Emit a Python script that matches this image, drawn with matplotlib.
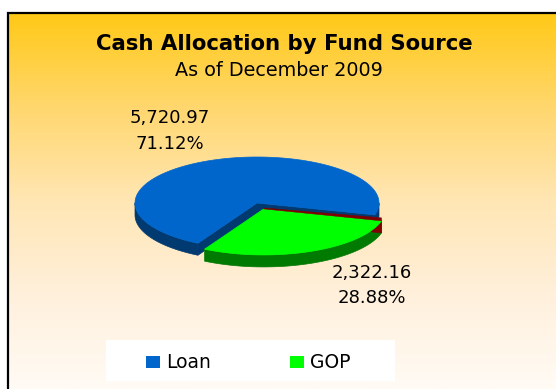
import numpy as np
import matplotlib
matplotlib.use("Agg")
import matplotlib.pyplot as plt
from matplotlib.patches import Polygon, Rectangle
from matplotlib.colors import LinearSegmentedColormap

# ---- data ----
categories = ["Loan", "GOP"]
amounts = [5720.97, 2322.16]
shares = [71.12, 28.88]          # percent of total
top_colors = ["#0066CC", "#00FF00"]
side_colors = ["#003A70", "#007A00"]
cut_color = "#800000"

title = "Cash Allocation by Fund Source"
subtitle = "As of December 2009"

W, H = 556, 390
fig = plt.figure(figsize=(W / 100, H / 100), dpi=100)
fig.patch.set_facecolor("white")

# ---- single drawing layer in pixel units ----
ax = fig.add_axes([0, 0, 1, 1])
ax.axis("off")

# chart area with vertical gradient
fl, ft, fr, fb = 8, 13, W, 389
grad = LinearSegmentedColormap.from_list(
    "warm", [(0.0, "#FFC916"), (0.25, "#FFD76E"), (0.5, "#FFE6B4"),
             (0.75, "#FFF0DC"), (1.0, "#FFFBF5")])
ax.imshow(np.linspace(0, 1, 256)[:, None], aspect="auto", cmap=grad,
          extent=[fl, fr, fb, ft], origin="upper", zorder=0)
ax.plot([fl, fl, fr], [fb, ft, ft], color="black", lw=1.6,
        solid_capstyle="butt", solid_joinstyle="miter", zorder=1)
ax.set_xlim(0, W)
ax.set_ylim(H, 0)

cx, cy = 257.0, 203.0
rx, ry = 122.0, 46.0
depth = 12.0
explode = [0.0, 0.14]
start = -15.0  # degrees, counter-clockwise


def rim(theta_deg, ox, oy, dz=0.0):
    t = np.radians(theta_deg)
    return np.column_stack([ox + rx * np.cos(t), oy - ry * np.sin(t) + dz])


fracs = np.array(shares) / sum(shares)
angles = start + 360 * np.concatenate([[0], np.cumsum(fracs)])

geo = []
for i in range(len(categories)):
    a0, a1 = angles[i], angles[i + 1]
    mid = np.radians((a0 + a1) / 2)
    ox = cx + explode[i] * rx * np.cos(mid)
    oy = cy - explode[i] * ry * np.sin(mid)
    geo.append((a0, a1, ox, oy))


def front_wall(a0, a1, ox, oy, color, z):
    # visible part of the curved outer wall (lower half of the ellipse)
    segs = []
    for k in range(-1, 2):
        s0, s1 = max(a0, 180 + 360 * k), min(a1, 360 + 360 * k)
        if s1 > s0:
            segs.append((s0, s1))
    for s0, s1 in segs:
        th = np.linspace(s0, s1, 120)
        top = rim(th, ox, oy)
        bot = rim(th[::-1], ox, oy, depth)
        ax.add_patch(Polygon(np.vstack([top, bot]), closed=True,
                             facecolor=color, edgecolor=color, lw=0.5,
                             zorder=z))


def radial_wall(theta, ox, oy, color, z):
    p = rim([theta], ox, oy)[0]
    pts = [(ox, oy), tuple(p), (p[0], p[1] + depth), (ox, oy + depth)]
    ax.add_patch(Polygon(pts, closed=True, facecolor=color,
                         edgecolor=color, lw=0.5, zorder=z))


def top_face(a0, a1, ox, oy, color, z):
    th = np.linspace(a0, a1, 300)
    pts = np.vstack([[ox, oy], rim(th, ox, oy)])
    ax.add_patch(Polygon(pts, closed=True, facecolor=color,
                         edgecolor=color, lw=0.5, zorder=z))


# Loan (back slice)
a0, a1, ox, oy = geo[0]
radial_wall(a1, ox, oy, side_colors[0], 2)
radial_wall(a0, ox, oy, side_colors[0], 2)
front_wall(a0, a1, ox, oy, side_colors[0], 2)
top_face(a0, a1, ox, oy, top_colors[0], 3)

# GOP (exploded front slice)
a0, a1, ox, oy = geo[1]
front_wall(a0, a1, ox, oy, side_colors[1], 4)
radial_wall(a1, ox, oy, cut_color, 5)
top_face(a0, a1, ox, oy, top_colors[1], 6)
# thin cut edge along the back side of the GOP slice
p = rim([a1], ox, oy)[0]
ax.add_patch(Polygon([(ox, oy), tuple(p), (p[0], p[1] - 3), (ox, oy - 1)],
                     closed=True, facecolor=cut_color, edgecolor=cut_color,
                     lw=0.3, zorder=6))

# ---- titles ----
font = "DejaVu Sans"
ax.text(284, 44, title, ha="center", va="center", fontsize=15.3,
        fontweight="bold", family=font, color="black")
ax.text(278.5, 71, subtitle, ha="center", va="center", fontsize=13.8,
        family=font, color="black")

# ---- data labels ----
label_pos = [(170, 118, 144), (372, 273, 298)]
for (x, y1, y2), amt, sh in zip(label_pos, amounts, shares):
    ax.text(x, y1, f"{amt:,.2f}", ha="center", va="center", fontsize=13,
            family=font)
    ax.text(x, y2, f"{sh:.2f}%", ha="center", va="center", fontsize=13,
            family=font)

# ---- legend ----
ax.add_patch(Rectangle((106, 340), 289, 41, facecolor="white",
                       edgecolor="none", zorder=7))
leg_x = [146, 290]
for x, name, col in zip(leg_x, categories, top_colors):
    ax.add_patch(Rectangle((x, 356), 14, 12, facecolor=col,
                           edgecolor="none", zorder=8))
    ax.text(x + 20, 363, name, ha="left", va="center", fontsize=13.5,
            family=font, zorder=8)

fig.savefig("out.png", dpi=100, facecolor=fig.get_facecolor())
